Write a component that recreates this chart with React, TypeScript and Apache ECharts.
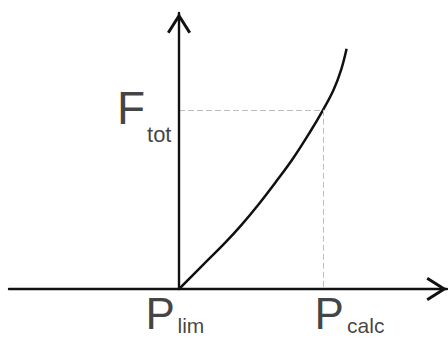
import React, { useEffect, useRef } from 'react';
import * as echarts from 'echarts';

// Force F against position P (P_lim at the origin, P_calc at 1, F_tot at 1)
const P_CURVE = [0, 0.201, 0.319, 0.434, 0.549, 0.667, 0.785, 0.906, 1, 1.073, 1.125, 1.163];
const F_CURVE = [0, 0.162, 0.257, 0.358, 0.469, 0.592, 0.721, 0.872, 1, 1.112, 1.223, 1.341];

const P_LIM = 0;
const P_CALC = 1;
const F_TOT = 1;

const Y_MARK = ['F', 'tot'];
const LIM_MARK = ['P', 'lim'];
const CALC_MARK = ['P', 'calc'];

const INK = '#111111';
const GUIDE = '#bdbdbd';
const FONT = '"Liberation Sans", Arial, Helvetica, sans-serif';
// open chevron arrow head, tip at the top
const ARROW = 'path://M12,0 L24,19 L21.46,20.6 L12,5.6 L2.54,20.6 L0,19 Z';

function tag(value: number[], text: string, size: number, dx: number, dy: number) {
  return {
    value,
    label: {
      show: true,
      formatter: text,
      position: [dx, dy],
      align: 'left',
      verticalAlign: 'middle',
      fontSize: size,
      lineHeight: Math.round(size * 0.78),
      fontFamily: FONT,
      color: INK,
    },
  };
}

function axisBase(min: number, max: number) {
  return {
    type: 'value',
    min,
    max,
    axisLine: {
      show: true,
      onZero: true,
      lineStyle: { color: INK, width: 2.4 },
      symbol: ['none', ARROW],
      symbolSize: [24, 20.6],
      symbolOffset: [0, -10.3],
    },
    axisTick: { show: false },
    axisLabel: { show: false },
    splitLine: { show: false },
  };
}

export default function App() {
  const ref = useRef<HTMLDivElement>(null);

  useEffect(() => {
    if (!ref.current) return;
    const chart = echarts.init(ref.current, null, { renderer: 'svg' });

    const curve = P_CURVE.map((p, i) => [p, F_CURVE[i]]);

    chart.setOption({
      animation: false,
      backgroundColor: '#ffffff',
      grid: { left: 9, right: 1, top: 13, bottom: 49 },
      xAxis: { ...axisBase(-1.18, 1.86), z: 5 },
      yAxis: { ...axisBase(0, 1.54), z: 10 },
      series: [
        {
          type: 'line',
          data: curve,
          smooth: 0.4,
          showSymbol: false,
          lineStyle: { color: INK, width: 2.5 },
          z: 3,
          markLine: {
            silent: true,
            symbol: ['none', 'none'],
            label: { show: false },
            lineStyle: { color: GUIDE, type: [6, 3], width: 1 },
            data: [
              [{ coord: [P_LIM, F_TOT] }, { coord: [P_CALC, F_TOT] }],
              [{ coord: [P_CALC, F_TOT] }, { coord: [P_CALC, 0] }],
            ],
          },
        },
        {
          type: 'scatter',
          symbolSize: 0,
          itemStyle: { color: 'transparent' },
          silent: true,
          z: 20,
          data: [
            tag([P_LIM, F_TOT], Y_MARK[0], 46, -62, -2),
            tag([P_LIM, F_TOT], Y_MARK[1], 22, -32, 25),
            tag([P_LIM, 0], LIM_MARK[0], 44, -33.5, 24.4),
            tag([P_LIM, 0], LIM_MARK[1], 21, -1.5, 36.7),
            tag([P_CALC, 0], CALC_MARK[0], 44, -8.5, 24.4),
            tag([P_CALC, 0], CALC_MARK[1], 21, 24, 36.7),
          ],
        },
      ],
    });

    return () => chart.dispose();
  }, []);

  return (
    <div
      ref={ref}
      style={{ position: 'fixed', left: 0, top: 0, width: 448, height: 338, background: '#fff' }}
    />
  );
}
